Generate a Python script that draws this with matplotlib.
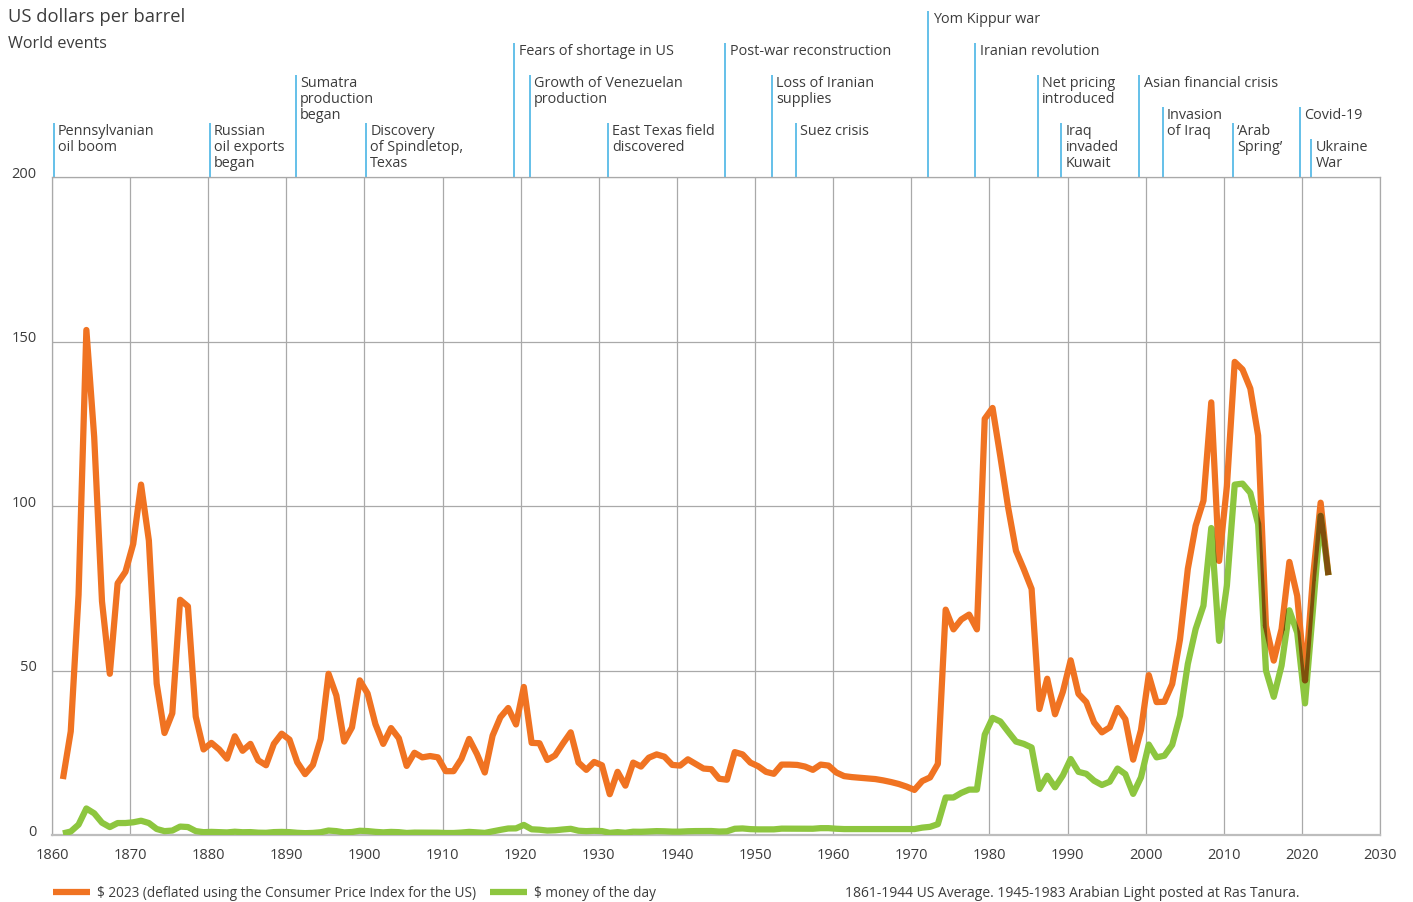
import numpy as np
import matplotlib.pyplot as plt
from matplotlib.path import Path
from matplotlib.transforms import IdentityTransform

plt.rcParams['font.family'] = ['Open Sans', 'DejaVu Sans']

# DATA
years = np.arange(1861, 2024)

# $ 2023 (deflated using US CPI)
real_2023 = [
    17.0, 31.5, 73.0, 153.5, 121.0, 71.0, 49.0, 76.5, 80.0, 88.5,          # 1861-1870
    106.5, 89.5, 46.0, 31.0, 37.0, 71.5, 69.5, 36.0, 26.0, 28.0,           # 1871-1880
    26.0, 23.2, 30.0, 25.6, 27.7, 22.7, 21.2, 27.7, 30.8, 29.0,            # 1881-1890
    22.1, 18.5, 21.3, 29.2, 49.0, 42.4, 28.4, 32.7, 47.0, 43.0,            # 1891-1900
    33.7, 27.7, 32.5, 29.4, 21.0, 25.0, 23.6, 24.0, 23.6, 19.4,            # 1901-1910
    19.4, 23.1, 29.2, 24.6, 19.0, 30.2, 35.8, 38.6, 33.6, 45.0,            # 1911-1920
    28.0, 27.9, 22.8, 24.2, 27.8, 31.2, 22.0, 19.8, 22.2, 21.2,            # 1921-1930
    12.4, 19.2, 15.0, 22.0, 20.8, 23.5, 24.5, 23.8, 21.3, 21.1,            # 1931-1940
    23.0, 21.6, 20.2, 20.0, 17.1, 16.8, 25.2, 24.5, 22.0, 20.9,            # 1941-1950
    19.2, 18.6, 21.4, 21.4, 21.3, 20.8, 19.8, 21.4, 21.1, 19.0,            # 1951-1960
    17.9, 17.6, 17.4, 17.2, 17.0, 16.6, 16.1, 15.5, 14.7, 13.7,            # 1961-1970
    16.4, 17.5, 21.6, 68.5, 62.5, 65.5, 67.0, 62.5, 126.5, 129.8,          # 1971-1980
    115.0, 99.5, 86.4, 80.8, 74.8, 38.3, 47.5, 36.7, 43.5, 53.1,           # 1981-1990
    42.9, 40.4, 34.2, 31.2, 32.7, 38.6, 35.2, 22.9, 31.9, 48.6,            # 1991-2000
    40.4, 40.5, 45.9, 59.5, 80.9, 94.0, 101.6, 131.5, 83.3, 106.0,         # 2001-2010
    143.8, 141.5, 135.7, 121.4, 63.6, 53.0, 62.6, 83.0, 72.7, 47.0,        # 2011-2020
    77.8, 101.0, 79.0,                                                     # 2021-2023
]

# $ money of the day
money_of_day = [
    0.49, 1.05, 3.15, 8.06, 6.59, 3.74, 2.41, 3.63, 3.64, 3.86,            # 1861-1870
    4.34, 3.64, 1.83, 1.17, 1.35, 2.56, 2.42, 1.19, 0.86, 0.95,            # 1871-1880
    0.86, 0.78, 1.00, 0.84, 0.88, 0.71, 0.67, 0.88, 0.94, 0.87,            # 1881-1890
    0.67, 0.56, 0.64, 0.84, 1.36, 1.18, 0.79, 0.91, 1.29, 1.19,            # 1891-1900
    0.96, 0.80, 0.94, 0.86, 0.62, 0.73, 0.72, 0.72, 0.70, 0.61,            # 1901-1910
    0.61, 0.74, 0.95, 0.81, 0.64, 1.10, 1.56, 1.98, 2.01, 3.07,            # 1911-1920
    1.73, 1.61, 1.34, 1.43, 1.68, 1.88, 1.30, 1.17, 1.27, 1.19,            # 1921-1930
    0.65, 0.87, 0.67, 1.00, 0.97, 1.09, 1.18, 1.13, 1.02, 1.02,            # 1931-1940
    1.14, 1.19, 1.20, 1.21, 1.05, 1.12, 1.90, 1.99, 1.78, 1.71,            # 1941-1950
    1.71, 1.71, 1.93, 1.93, 1.93, 1.93, 1.90, 2.08, 2.08, 1.90,            # 1951-1960
    1.80, 1.80, 1.80, 1.80, 1.80, 1.80, 1.80, 1.80, 1.80, 1.80,            # 1961-1970
    2.24, 2.48, 3.29, 11.4, 11.4, 12.8, 13.8, 13.8, 30.5, 35.6,            # 1971-1980
    34.5, 31.4, 28.4, 27.7, 26.6, 14.0, 18.0, 14.5, 18.1, 23.1,            # 1981-1990
    19.2, 18.6, 16.5, 15.2, 16.2, 20.2, 18.5, 12.5, 17.5, 27.5,            # 1991-2000
    23.6, 24.1, 27.4, 36.3, 52.0, 62.6, 69.7, 93.3, 59.0, 75.8,            # 2001-2010
    106.5, 106.8, 104.0, 94.5, 50.0, 42.0, 51.5, 68.3, 61.5, 40.0,         # 2011-2020
    68.0, 97.0, 79.0,                                                      # 2021-2023
]

event_years = [1860, 1880, 1891, 1900, 1919, 1921, 1931, 1946, 1952, 1955,
               1972, 1978, 1986, 1989, 1999, 2002, 2011, 2019.6, 2021]
event_labels = [
    'Pennsylvanian\noil boom', 'Russian\noil exports\nbegan',
    'Sumatra\nproduction\nbegan', 'Discovery\nof Spindletop,\nTexas',
    'Fears of shortage in US', 'Growth of Venezuelan\nproduction',
    'East Texas field\ndiscovered', 'Post-war reconstruction',
    'Loss of Iranian\nsupplies', 'Suez crisis', 'Yom Kippur war',
    'Iranian revolution', 'Net pricing\nintroduced', 'Iraq\ninvaded\nKuwait',
    'Asian financial crisis', 'Invasion\nof Iraq', '\u2018Arab\nSpring\u2019',
    'Covid-19', 'Ukraine\nWar',
]
# text row on which each label starts (0 = top of figure)
event_rows = [7, 7, 4, 7, 2, 4, 7, 2, 4, 7, 0, 2, 4, 7, 4, 6, 7, 6, 8]

x_ticks = list(range(1860, 2031, 10))
y_ticks = [0, 50, 100, 150, 200]

ORANGE = '#f07322'
GREEN = '#8dc63f'
BROWN = '#7f4f0c'
GRID = '#a9a9a9'
TEXT = '#3c3c3c'
EVENT = '#3aafe3'

W, H = 1413, 903
fig = plt.figure(figsize=(W / 100, H / 100), dpi=100)
ax = fig.add_axes([52 / W, 1 - 836 / H, 1328 / W, 658 / H])
ax.set_xlim(1860, 2030)
ax.set_ylim(0, 200)

# grid
ax.set_xticks(x_ticks)
ax.set_yticks(y_ticks)
ax.grid(True, color=GRID, lw=0.9)
ax.set_axisbelow(True)
for side in ['left', 'right', 'top']:
    ax.spines[side].set_color(GRID)
    ax.spines[side].set_linewidth(0.9)
ax.spines['bottom'].set_color('#bdbdbd')
ax.spines['bottom'].set_linewidth(1.6)
ax.tick_params(axis='both', length=0, labelsize=10.5, labelcolor=TEXT)
ax.tick_params(axis='x', pad=9)
ax.tick_params(axis='y', pad=11)
for lab in ax.get_yticklabels():
    lab.set_verticalalignment('baseline')

# series
xs = years + 0.4
lw = 4.5
l1, = ax.plot(xs, real_2023, color=ORANGE, lw=lw, solid_joinstyle='round',
              solid_capstyle='butt', zorder=3)
l2, = ax.plot(xs, money_of_day, color=GREEN, lw=lw, solid_joinstyle='round',
              solid_capstyle='butt', zorder=4)


# where the two strokes overlap the colours multiply to brown
def stroke_outline(xv, yv, width_px):
    pts = ax.transData.transform(np.column_stack([xv, yv]))
    r = width_px / 2
    verts, codes = [], []
    for p0, p1 in zip(pts[:-1], pts[1:]):
        d = p1 - p0
        n = np.array([-d[1], d[0]]) / np.hypot(*d) * r
        verts += [p0 - n, p1 - n, p1 + n, p0 + n, p0 - n]
        codes += [Path.MOVETO, Path.LINETO, Path.LINETO, Path.LINETO, Path.CLOSEPOLY]
    t = np.linspace(0, 2 * np.pi, 25)
    ring = np.column_stack([np.cos(t), np.sin(t)]) * r
    for p in pts:
        verts += list(p + ring)
        codes += [Path.MOVETO] + [Path.LINETO] * 23 + [Path.CLOSEPOLY]
    return Path(verts, codes)


l3, = ax.plot(xs, money_of_day, color=BROWN, lw=lw, solid_joinstyle='round',
              solid_capstyle='butt', zorder=5)
l3.set_clip_path(stroke_outline(xs, real_2023, lw * 100 / 72), IdentityTransform())

# world events
row_h = 16
ex = np.array(event_years) + 0.2
tops = [1 + (178 - (12 + row_h * r)) / 658 for r in event_rows]
ax.vlines(ex, 1, tops, color=EVENT, lw=1.1,
          transform=ax.get_xaxis_transform(), clip_on=False)
for x, top, lab in zip(ex, tops, event_labels):
    ax.annotate(lab, xy=(x, top), xycoords=ax.get_xaxis_transform(),
                xytext=(3, 0), textcoords='offset points', ha='left', va='top',
                fontsize=10.4, color=TEXT, linespacing=1.1, annotation_clip=False)

# titles
fig.text(8 / W, 1 - 17 / H, 'US dollars per barrel', fontsize=13.2, color=TEXT, va='center')
fig.text(8 / W, 1 - 44 / H, 'World events', fontsize=11.6, color=TEXT, va='center')

# legend and note
fig.legend([l1, l2], ['\\$ 2023 (deflated using the Consumer Price Index for the US)',
                      '\\$ money of the day'],
           loc='center left', bbox_to_anchor=(53 / W, 1 - 894 / H), ncol=2,
           frameon=False, fontsize=9.8, handlelength=2.7, handletextpad=0.55,
           columnspacing=1.0, borderpad=0, borderaxespad=0, labelcolor=TEXT)
fig.text(845 / W, 1 - 894 / H,
         '1861-1944 US Average. 1945-1983 Arabian Light posted at Ras Tanura.',
         fontsize=10.0, color=TEXT, va='center')

fig.savefig('out.png', dpi=100)
